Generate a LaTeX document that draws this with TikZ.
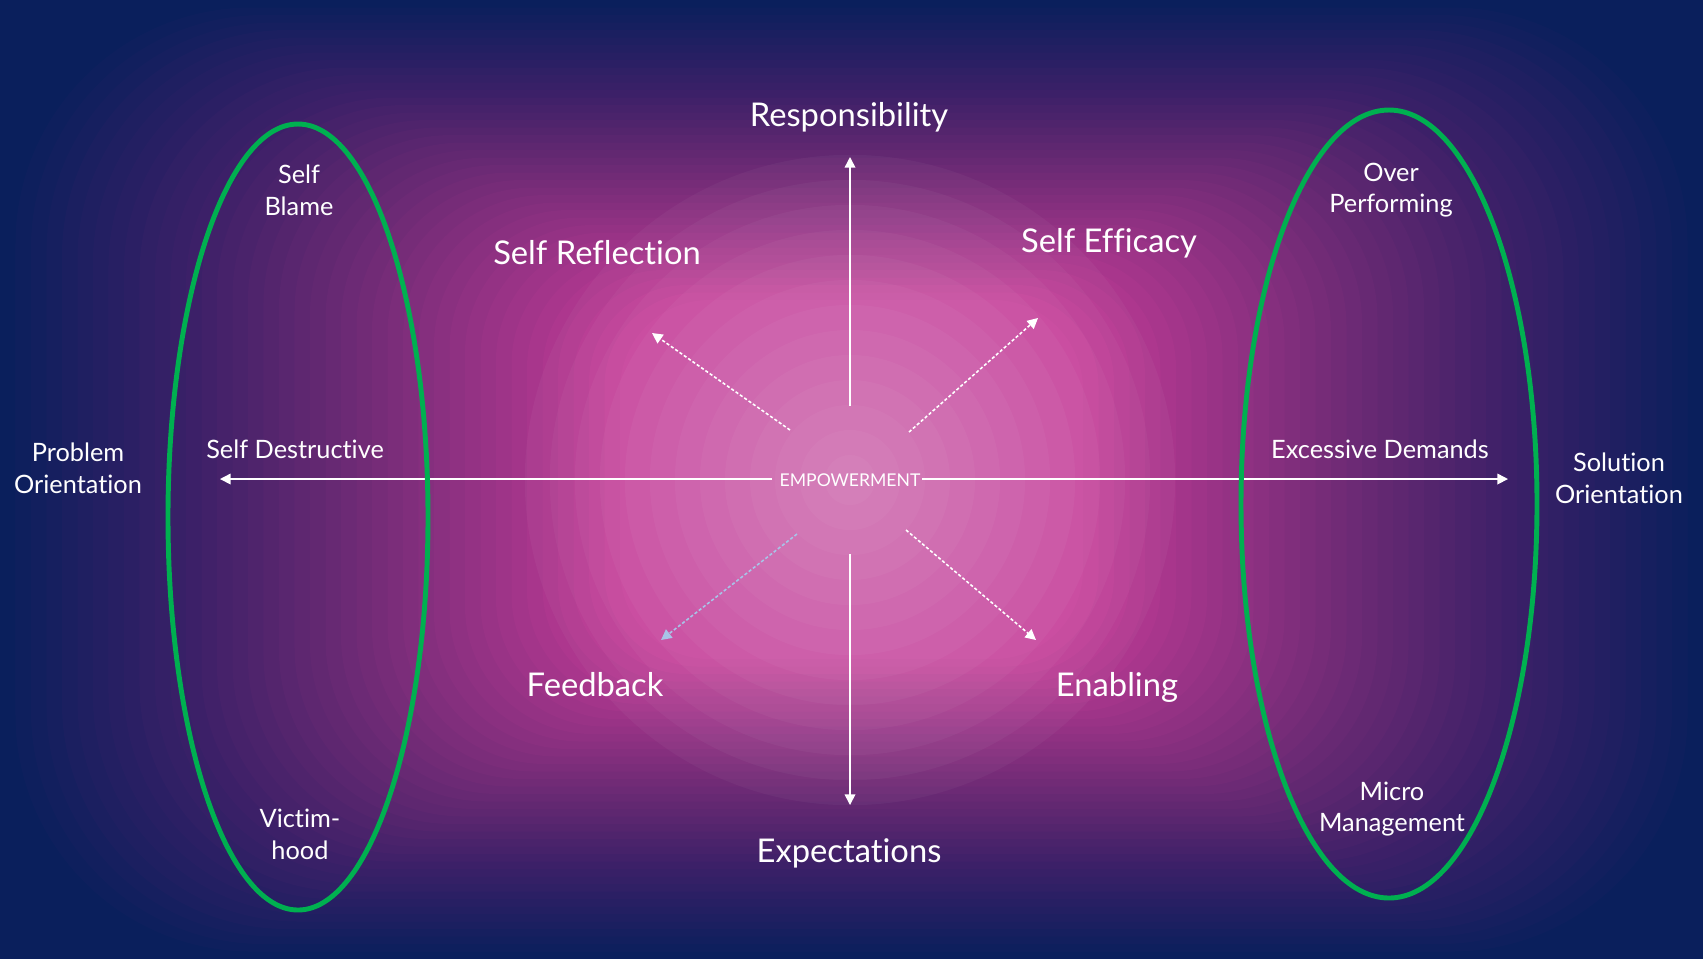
\documentclass[tikz,border=0pt]{standalone}
\usepackage{fontspec}
\setmainfont{Lato}[Ligatures=NoCommon]
\usetikzlibrary{arrows.meta}
\definecolor{navy}{HTML}{0A1F5C}
\definecolor{glow}{HTML}{CF3F9C}
\definecolor{ovalgreen}{HTML}{00B050}
\definecolor{paleblue}{HTML}{A8C4E8}

\begin{document}
\begin{tikzpicture}[x=0.01cm,y=-0.01cm,
  big/.style={text=white,font=\fontsize{9.3}{11}\selectfont},
  small/.style={text=white,align=center,font=\fontsize{7.2}{9}\selectfont},
  axis/.style={white,line width=0.45pt,-{Triangle[length=3pt,width=3pt]}},
  diag/.style={axis,dash pattern=on 0.9pt off 0.6pt},
  oval/.style={draw=ovalgreen,line width=1.4pt}]
\useasboundingbox (0,0) rectangle (1703,959);
% background: navy, magenta glow from nested rounded boxes, pale rings in the middle
\fill[navy] (0,0) rectangle (1703,959);
\foreach \k in {1,...,40}{
  \pgfmathsetmacro\t{\k/40}
  \pgfmathsetmacro\op{0.02425/(1-0.97*(\k-1)/40)}
  \pgfmathsetmacro\rr{0.005*(479.5-300*\t)}
  \fill[glow,opacity=\op,rounded corners=\rr cm] (620*\t,300*\t) rectangle (1703-620*\t,959-300*\t);
}
\coordinate (ctr) at (850,480);
\foreach \r in {13,...,1} \fill[white,opacity=0.036] (ctr) circle (\r*0.25cm);

\node[text=white,font=\fontsize{5}{6}\selectfont] (emp) at (ctr) {EMPOWERMENT};

% axis ends
\coordinate (upS) at (850,406);   \coordinate (up) at (850,157);
\coordinate (downS) at (850,554); \coordinate (down) at (850,805);
\coordinate (leftS) at (772,479); \coordinate (left) at (220,479);
\coordinate (rightS) at (922,479); \coordinate (right) at (1508,479);
\draw[axis] (upS) -- (up);
\draw[axis] (downS) -- (down);
\draw[axis] (leftS) -- (left);
\draw[axis] (rightS) -- (right);

% diagonals
\coordinate (nwS) at (790,430); \coordinate (nw) at (652,333);
\coordinate (neS) at (909,432); \coordinate (ne) at (1038,318);
\coordinate (swS) at (797,534); \coordinate (sw) at (661,640);
\coordinate (seS) at (906,530); \coordinate (se) at (1036,640);
\draw[diag] (nwS) -- (nw);
\draw[diag] (neS) -- (ne);
\draw[diag,paleblue] (swS) -- (sw);
\draw[diag] (seS) -- (se);

% the two green ovals
\draw[oval] (298,517) ellipse (130 and 393);
\draw[oval] (1389,504) ellipse (148 and 394);

% labels
\node[big] (resp) at (849,117) {Responsibility};
\node[big] (srefl) at (597,253) {Self Reflection};
\node[big] (seff) at (1109,243) {Self Efficacy};
\node[big] (feed) at (595,685) {Feedback};
\node[big] (enab) at (1117,687) {Enabling};
\node[big] (expe) at (849,853) {Expectations};
\node[small] (prob) at (78,468) {Problem\\Orientation};
\node[small] (solu) at (1619,478) {Solution\\Orientation};
\node[small] (blame) at (299,190) {Self\\Blame};
\node[small] (destr) at (295,449) {Self Destructive};
\node[small] (victim) at (300,834) {Victim-\\hood};
\node[small] (over) at (1391,190) {Over\\Performing};
\node[small] (exces) at (1380,449) {Excessive Demands};
\node[small] (micro) at (1392,809) {Micro\\Management};
\end{tikzpicture}
\end{document}
